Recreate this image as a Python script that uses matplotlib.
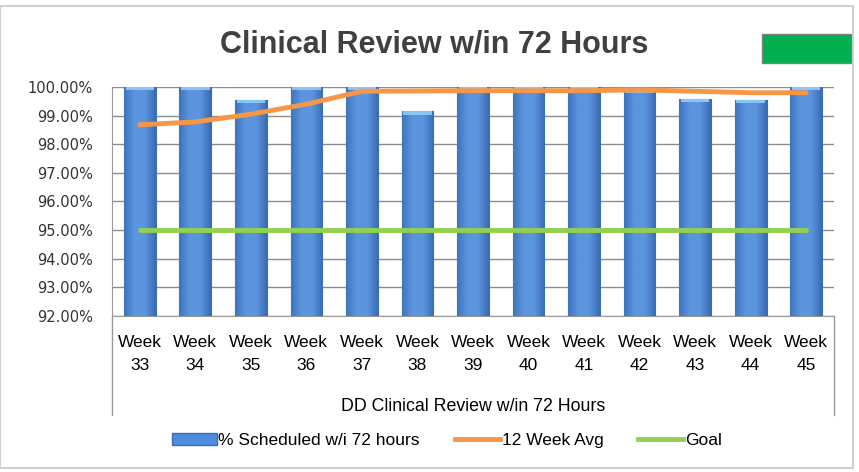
import matplotlib.pyplot as plt
import matplotlib.patches as mpatches
from matplotlib.lines import Line2D
from matplotlib.colors import LinearSegmentedColormap
import numpy as np

# chart data
weeks = ["33", "34", "35", "36", "37", "38", "39", "40", "41", "42", "43", "44", "45"]
scheduled = [100.0, 100.0, 99.55, 100.0, 100.0, 99.15, 100.0, 100.0, 100.0, 99.9, 99.58, 99.55, 100.0]
avg_12wk = [98.68, 98.78, 99.05, 99.40, 99.85, 99.86, 99.87, 99.87, 99.87, 99.90, 99.85, 99.80, 99.80]
goal = [95.0] * 13
yticks = [92, 93, 94, 95, 96, 97, 98, 99, 100]

fig = plt.figure(figsize=(8.59, 4.72), dpi=100)
ax = fig.add_axes([0.1304, 0.3305, 0.8405, 0.4852])

x = np.arange(len(weeks))
w = 0.57
bars = ax.bar(x, scheduled, width=w, color="#4F8CDB", edgecolor="#3A6DB3",
              linewidth=0.8, zorder=3)

# horizontal shading on the bars, darker at the edges
shade = LinearSegmentedColormap.from_list("shade", ["#3F74BF", "#5B95DE", "#5B95DE", "#3B6CB3"])
grad = np.linspace(0, 1, 64).reshape(1, -1)
for b in bars:
    im = ax.imshow(grad, cmap=shade, aspect="auto", zorder=3.5,
                   extent=[b.get_x(), b.get_x() + b.get_width(), 92, b.get_height()])
    im.set_clip_path(b)
    # lighter top cap
    ax.bar(b.get_x() + w / 2, 0.12, bottom=b.get_height() - 0.12, width=w * 0.9,
           color="#8CC3F5", edgecolor="none", zorder=4)

ax.plot(x, avg_12wk, color="#F79646", lw=3.5, solid_capstyle="round", zorder=5)
ax.plot(x, goal, color="#92D050", lw=3.5, solid_capstyle="round", zorder=5)

ax.set_xlim(-0.5, len(weeks) - 0.5)
ax.set_ylim(92, 100)
ax.set_yticks(yticks)
ax.set_yticklabels([f"{v:.2f}%" for v in yticks], fontsize=10.5, family="DejaVu Sans", color="#333333")
ax.grid(axis="y", color="#8C8C8C", lw=1.0, zorder=0)
ax.tick_params(axis="y", length=0, pad=14)
ax.tick_params(axis="x", length=0, pad=14)
ax.set_xticks(x)
ax.set_xticklabels([f"Week\n{wk}" for wk in weeks], fontsize=12.5,
                   family="Liberation Sans", linespacing=1.6)
ax.set_xlabel("DD Clinical Review w/in 72 Hours", fontsize=12.8, family="Liberation Sans", labelpad=18)
for s in ["top", "right"]:
    ax.spines[s].set_visible(False)
ax.spines["left"].set_color("#999999")
ax.spines["bottom"].set_color("#999999")

# category axis box side lines
fig.add_artist(Line2D([0.1304, 0.1304], [0.3305, 0.12], color="#999999", lw=1))
fig.add_artist(Line2D([0.9709, 0.9709], [0.3305, 0.12], color="#999999", lw=1))

fig.text(0.505, 0.905, "Clinical Review w/in 72 Hours", ha="center", va="center",
         fontsize=22, fontweight="bold", family="Liberation Sans", color="#404040")

# green marker box top right
fig.add_artist(mpatches.Rectangle((762 / 859, 1 - 63 / 472), 90 / 859, 29 / 472,
                                  facecolor="#00B050", edgecolor="#808080", lw=1))

# outer frame
fig.add_artist(mpatches.Rectangle((0.0, 4 / 472), 853 / 859, 1 - 10 / 472,
                                  facecolor="none", edgecolor="#D0D0D0", lw=1.5))

handles = [mpatches.Patch(facecolor="#4F8CDB", edgecolor="#3A6DB3"),
           Line2D([], [], color="#F79646", lw=3.5),
           Line2D([], [], color="#92D050", lw=3.5)]
fig.legend(handles, ["% Scheduled w/i 72 hours", "12 Week Avg", "Goal"],
           loc="center", bbox_to_anchor=(0.52, 0.067), ncol=3, frameon=False,
           prop={"family": "Liberation Sans", "size": 12.5}, handlelength=2.6,
           handletextpad=0.1, columnspacing=2.0)

plt.savefig("out.png", dpi=100)
